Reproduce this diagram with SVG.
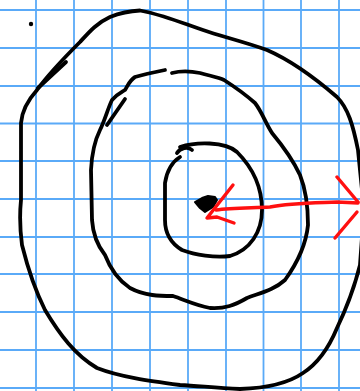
<svg xmlns="http://www.w3.org/2000/svg" width="360" height="391" viewBox="0 0 360 391">
<style>
.g{stroke:#5aaaf8;stroke-width:1.8;fill:none}
.k{stroke:#000;stroke-width:3.8;fill:none;stroke-linecap:round;stroke-linejoin:round}
.r{stroke:#ff1010;stroke-width:3.4;fill:none;stroke-linecap:round;stroke-linejoin:round}
</style>
<rect width="360" height="391" fill="#fff"/>
<g id="grid">
<path class="g" d="M36,0V391M74,0V391M112,0V391M150,0V391M188,0V391M226,0V391M263.5,0V391M301,0V391M339,0V391"/>
<path class="g" d="M0,10H360M0,48H360M0,86H360M0,123.5H360M0,161H360M0,199H360M0,237H360M0,274H360M0,312H360M0,350H360M0,388H360"/>
</g>
<g id="sketch">
<circle cx="31" cy="24" r="2.2" fill="#000"/>
<path class="k" d="M37,90 C50,72 65,57 80,42 C90,31 97,23 110,17 C120,13 130,11 140,10.5 L147,12 C165,16 185,24 203,30 C220,36 245,42 267,50 C290,60 315,78 337,97 C348,108 353,125 358,150 L364,210 L360,265 C355,285 348,305 337,328 C330,345 320,362 303,373 C290,382 270,388 240,389 C215,388 200,386 180,385 C150,381 120,377 97,368 C75,355 60,335 45,310 C35,290 27,265 22,245 C20,230 20,210 21,200 L21,123 C22,110 28,100 37,90"/>
<path class="k" d="M38,88 L66,62"/>
<path class="k" d="M172,73 C180,71 190,71 200,73 C210,76 218,77 224,80 C235,87 246,95 255,103 C262,112 265,122 272,133 C282,145 293,160 300,175 C306,190 308,210 308,225 C306,245 298,262 285,280 C274,290 260,293 247,298 C235,305 225,309 210,308 C195,305 185,300 173,296 C160,296 145,296 130,288 C118,280 110,268 105,255 C97,245 93,235 92,220 L91,170 C92,150 95,140 100,130 C105,120 108,108 112,100 C117,94 122,92 125,90 C128,85 130,80 135,77 C145,74 155,72 165,70"/>
<path class="k" d="M107,125 L125,99"/>
<path class="k" d="M180,147 C195,142 225,141 237,152 C250,165 262,185 262,210 C262,232 250,250 230,256 C215,258 195,255 182,250 C172,244 165,235 165,220 L165,183 C167,170 172,162 180,157"/>
<path class="k" d="M192,150 C188,146 180,148 177,153"/>
<path d="M195,202 L202,198 L208,196 L215,197 L217,200 L213,207 L205,212 L200,208 Z" fill="#000" stroke="#000" stroke-width="2" stroke-linejoin="round"/>
<path class="r" d="M233,185 L207,218 L217,217 L234,223"/>
<path class="r" d="M216,210 C230,208 250,208 270,207 C290,203 310,203 337,202 L358,203"/>
<path class="r" d="M337,177 L358,202"/>
<path class="r" d="M335,238 L357,212"/>
</g>
</svg>
